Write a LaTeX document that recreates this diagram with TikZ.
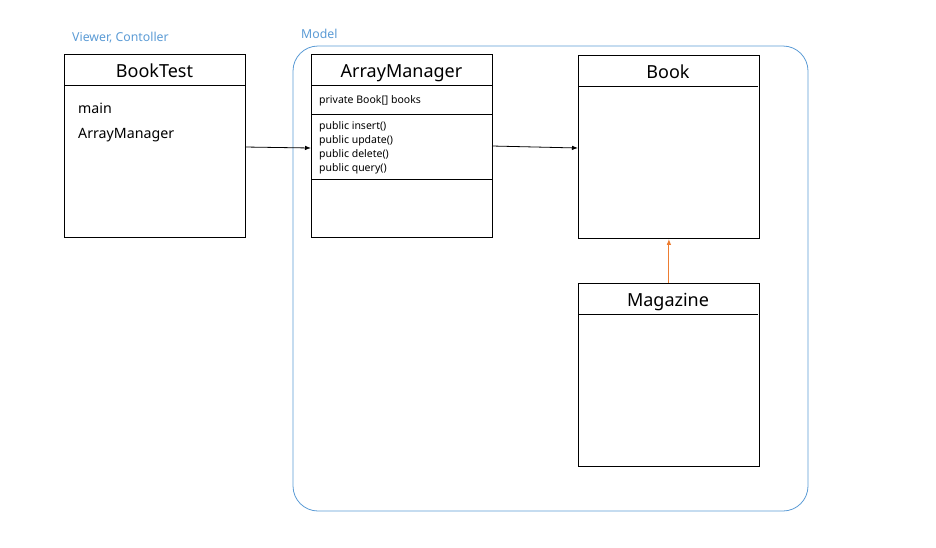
\documentclass[tikz,border=0pt]{standalone}
\usepackage{fontspec}
\setmainfont{Noto Sans}
\usetikzlibrary{arrows.meta}
\definecolor{mblue}{HTML}{5B9BD5}
\definecolor{morange}{HTML}{ED7D31}
\tikzset{
  cls/.style={draw=black, line width=0.8pt, minimum width=181pt, minimum height=183pt, anchor=north west, inner sep=0pt},
  ttl/.style={font=\fontsize{18}{20}\selectfont, anchor=base, inner sep=0pt},
  bodytxt/.style={font=\fontsize{14.2}{16}\selectfont, anchor=base west, inner sep=0pt},
  smalltxt/.style={font=\fontsize{10.5}{14}\selectfont, anchor=base west, inner sep=0pt},
  lbl/.style={font=\fontsize{12.3}{14}\selectfont, text=mblue, anchor=base west, inner sep=0pt},
  conn/.style={-{Latex[length=6pt,width=4.5pt]}, line width=0.8pt}
}
\begin{document}
\begin{tikzpicture}[x=1pt,y=-1pt]
\useasboundingbox (0,0) rectangle (936,547);
% model container
\draw[mblue, line width=0.8pt, rounded corners=25pt] (293,46) rectangle (808,511);
\node[lbl] (vclbl) at (72,41.5) {Viewer, Contoller};
\node[lbl] (mlbl) at (301,38.5) {Model};
% BookTest
\node[cls] (bt) at (64,54) {};
\draw[line width=0.8pt] (64,85) -- (245,85);
\node[ttl] (btt) at (154.5,77) {BookTest};
\node[bodytxt] (bt1) at (78,113) {main};
\node[bodytxt] (bt2) at (78,138) {ArrayManager};
% ArrayManager
\node[cls] (am) at (311,54) {};
\draw[line width=0.8pt] (311,85) -- (492,85);
\draw[line width=0.8pt] (311,114) -- (492,114);
\draw[line width=0.8pt] (311,179) -- (492,179);
\node[ttl] (amt) at (401.5,77) {ArrayManager};
\node[smalltxt] (am1) at (319,103) {private Book[] books};
\node[smalltxt] (am2) at (319,129) {public insert()};
\node[smalltxt] (am3) at (319,143) {public update()};
\node[smalltxt] (am4) at (319,157) {public delete()};
\node[smalltxt] (am5) at (319,171) {public query()};
% Book
\node[cls] (bk) at (578,55) {};
\draw[line width=0.8pt] (578,86) -- (758,86);
\node[ttl] (bkt) at (668,78) {Book};
% Magazine
\node[cls] (mg) at (578,283) {};
\draw[line width=0.8pt] (578,314) -- (758,314);
\node[ttl] (mgt) at (668,306) {Magazine};
% connectors
\coordinate (a1) at (245,147);
\coordinate (a2) at (311,148);
\coordinate (b1) at (492,146);
\coordinate (b2) at (578,148);
\draw[conn] (a1) -- (a2);
\draw[conn] (b1) -- (b2);
\draw[conn, morange, line width=1pt] (mg.north) -- (bk.south);
\end{tikzpicture}
\end{document}
